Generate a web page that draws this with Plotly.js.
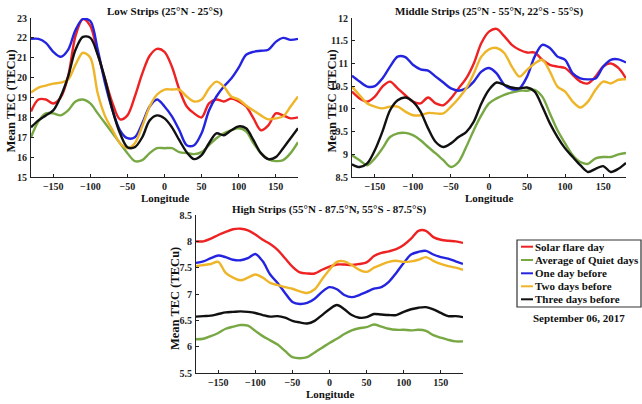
<!DOCTYPE html>
<html>
<head>
<meta charset="utf-8">
<script src="https://cdn.plot.ly/plotly-3.0.1.min.js"></script>
<style>html,body{margin:0;padding:0;background:#fff;}#chart{width:642px;height:404px;}</style>
</head>
<body>
<div id="chart"></div>
<script>
const longitude = [-180,-170,-160,-150,-140,-130,-120,-110,-100,-90,-80,-70,-60,-50,-40,-30,-20,-10,0,10,20,30,40,50,60,70,80,90,100,110,120,130,140,150,160,170,180];
const seriesNames = ["Solar flare day","Average of Quiet days","One day before","Two days before","Three days before"];
const seriesColors = ["#ee2222","#78a843","#2424e0","#efb528","#111111"];

// Low strips (25N - 25S)
const lowFlare = [18.3,18.9,18.9,18.7,19.0,20.05,22.1,22.95,22.6,21.2,19.9,18.7,17.9,18.1,19.05,20.2,21.1,21.45,21.3,20.55,19.4,18.55,18.2,18.0,18.7,18.9,18.8,18.95,18.8,18.55,17.95,17.35,17.6,18.2,18.1,17.95,18.0];
const lowQuiet = [17.0,17.8,18.2,18.2,18.1,18.35,18.8,18.9,18.7,18.2,17.7,17.2,16.7,16.2,15.8,15.85,16.2,16.45,16.45,16.45,16.25,16.2,16.15,16.25,16.6,16.95,17.2,17.35,17.45,17.3,16.7,16.2,15.9,15.8,15.85,16.2,16.75];
const lowOne   = [21.95,21.95,21.75,21.3,21.05,21.4,22.4,22.95,22.85,21.4,19.7,18.35,17.35,16.95,17.0,17.7,18.55,18.9,18.55,18.05,17.35,16.6,16.6,17.2,18.35,19.05,19.55,19.95,20.5,21.15,21.3,21.35,21.4,21.8,22.0,21.9,21.95];
const lowTwo   = [19.25,19.5,19.6,19.7,19.75,19.9,20.65,21.25,21.0,19.2,18.05,17.35,16.7,16.45,16.7,17.55,18.55,19.15,19.4,19.4,19.4,19.05,18.8,18.9,19.45,19.8,19.55,19.05,18.9,18.6,18.35,18.1,17.9,17.95,18.05,18.55,19.05];
const lowThree = [17.5,17.85,18.1,18.35,19.05,20.05,21.4,22.05,22.0,21.15,19.9,18.35,17.2,16.5,16.5,17.0,17.85,18.1,17.95,17.5,16.85,16.25,15.9,16.1,16.7,17.2,17.1,17.35,17.55,17.45,16.85,16.2,15.9,16.0,16.45,16.95,17.45];

// Middle strips
const midFlare = [10.38,10.23,10.16,10.27,10.49,10.6,10.45,10.3,10.16,10.12,10.25,10.12,10.08,10.23,10.45,10.67,11.0,11.45,11.7,11.76,11.6,11.41,11.3,11.24,11.24,11.08,10.97,10.93,10.9,10.75,10.6,10.56,10.71,10.93,11.0,10.9,10.67];
const midQuiet = [8.98,8.87,8.76,8.91,9.13,9.38,9.46,9.47,9.42,9.31,9.16,9.02,8.87,8.72,8.83,9.16,9.53,9.86,10.12,10.23,10.31,10.36,10.4,10.4,10.42,10.27,9.9,9.53,9.24,8.98,8.83,8.79,8.91,8.94,8.94,9.0,9.03];
const midOne   = [10.73,10.6,10.49,10.5,10.67,10.93,11.15,11.14,10.97,10.87,10.84,10.71,10.58,10.45,10.4,10.45,10.6,10.82,10.9,10.78,10.53,10.43,10.45,10.71,11.15,11.41,11.34,11.15,11.08,10.78,10.67,10.65,10.67,10.93,11.08,11.09,11.02];
const midTwo   = [10.49,10.3,10.12,10.05,10.01,10.05,10.05,9.94,9.86,9.86,9.91,9.9,9.9,10.05,10.23,10.45,10.78,11.15,11.31,11.34,11.23,10.93,10.71,10.86,11.0,11.08,10.82,10.49,10.38,10.16,10.03,10.16,10.42,10.6,10.56,10.64,10.65];
const midThree = [8.78,8.72,8.8,9.09,9.5,9.97,10.19,10.25,10.16,9.94,9.57,9.27,9.16,9.24,9.38,9.49,9.72,10.12,10.42,10.58,10.53,10.47,10.45,10.47,10.38,10.05,9.68,9.38,9.13,8.94,8.76,8.61,8.68,8.74,8.61,8.68,8.81];

// High strips
const highFlare = [8.0,8.0,8.05,8.12,8.18,8.23,8.24,8.21,8.13,8.03,7.95,7.84,7.68,7.52,7.41,7.39,7.39,7.46,7.52,7.56,7.56,7.55,7.57,7.6,7.72,7.78,7.81,7.85,7.93,8.05,8.2,8.2,8.08,8.03,8.01,8.0,7.97];
const highQuiet = [6.14,6.15,6.2,6.26,6.34,6.38,6.41,6.4,6.3,6.2,6.12,6.04,5.92,5.8,5.78,5.8,5.89,5.98,6.07,6.15,6.24,6.31,6.35,6.37,6.42,6.38,6.34,6.32,6.32,6.31,6.32,6.3,6.22,6.17,6.13,6.1,6.1];
const highOne   = [7.59,7.62,7.68,7.73,7.7,7.65,7.64,7.68,7.76,7.62,7.37,7.21,7.02,6.85,6.81,6.83,6.91,7.04,7.13,7.09,6.98,6.94,6.98,7.04,7.1,7.13,7.23,7.4,7.59,7.75,7.8,7.82,7.75,7.7,7.67,7.62,7.57];
const highTwo   = [7.53,7.55,7.57,7.61,7.4,7.31,7.26,7.31,7.37,7.31,7.21,7.17,7.13,7.1,7.05,7.02,7.09,7.28,7.46,7.61,7.62,7.55,7.46,7.42,7.5,7.56,7.61,7.63,7.61,7.62,7.65,7.7,7.63,7.57,7.53,7.5,7.46];
const highThree = [6.57,6.58,6.59,6.62,6.65,6.66,6.67,6.66,6.64,6.6,6.57,6.58,6.55,6.49,6.46,6.44,6.49,6.6,6.71,6.79,6.71,6.6,6.55,6.56,6.62,6.61,6.6,6.6,6.66,6.71,6.74,6.75,6.71,6.64,6.58,6.58,6.56];

const panelTitles = ["Low Strips (25°N - 25°S)","Middle Strips (25°N - 55°N, 22°S - 55°S)","High Strips (55°N - 87.5°N, 55°S - 87.5°S)"];
const xTitle = "Longitude";
const yTitle = "Mean TEC (TECu)";
const dateLabel = "September 06, 2017";

const W = 642, H = 404;
const FONT = "Liberation Serif, Times New Roman, serif";
const panels = [
  {data:[lowFlare,lowQuiet,lowOne,lowTwo,lowThree], x:[31,298], y:[18,177], range:[15,23], dtick:1},
  {data:[midFlare,midQuiet,midOne,midTwo,midThree], x:[352,626], y:[18,177], range:[8.5,12], dtick:0.5},
  {data:[highFlare,highQuiet,highOne,highTwo,highThree], x:[196,463], y:[215,373], range:[5.5,8.5], dtick:0.5}
];

const traces = [];
const layout = {
  width: W, height: H,
  margin: {l:0, r:0, t:0, b:0},
  paper_bgcolor: "#fff", plot_bgcolor: "#fff",
  showlegend: false,
  font: {family: FONT, color: "#111", size: 10},
  annotations: [], shapes: []
};
const px = v => v / W;
const py = v => 1 - v / H;

panels.forEach((p, i) => {
  const sfx = i === 0 ? "" : String(i + 1);
  p.data.forEach((arr, k) => {
    traces.push({
      x: longitude, y: arr, type: "scatter", mode: "lines",
      name: seriesNames[k], xaxis: "x" + sfx, yaxis: "y" + sfx,
      line: {color: seriesColors[k], width: 2.4, shape: "spline", smoothing: 0.9},
      hoverinfo: "skip"
    });
  });
  const axCommon = {
    showgrid: false, zeroline: false, showline: true, linecolor: "#222", linewidth: 1,
    ticks: "inside", ticklen: 3, tickcolor: "#222",
    tickfont: {family: FONT, size: 10, weight: "bold", color: "#222"}, fixedrange: true
  };
  layout["xaxis" + sfx] = Object.assign({}, axCommon, {
    domain: [px(p.x[0]), px(p.x[1])], anchor: "y" + sfx,
    range: [-180, 180], tick0: -150, dtick: 50
  });
  layout["yaxis" + sfx] = Object.assign({}, axCommon, {
    domain: [py(p.y[1]), py(p.y[0])], anchor: "x" + sfx,
    range: p.range, dtick: p.dtick, tick0: p.range[0], ticklabelstandoff: 1
  });
  const cx = (p.x[0] + p.x[1]) / 2;
  layout.annotations.push({
    text: "<b>" + panelTitles[i] + "</b>", xref: "paper", yref: "paper",
    x: px(i === 0 ? 165 : cx), y: py(i === 2 ? 209 : 11), showarrow: false,
    xanchor: "center", yanchor: "middle", font: {family: FONT, size: 11, color: "#111"}
  });
  layout.annotations.push({
    text: "<b>" + xTitle + "</b>", xref: "paper", yref: "paper",
    x: px(cx), y: py(p.y[1] + 20.5), showarrow: false,
    xanchor: "center", yanchor: "middle", font: {family: FONT, size: 11, color: "#111"}
  });
  layout.annotations.push({
    text: "<b>" + yTitle + "</b>", xref: "paper", yref: "paper",
    x: px(p.x[0] - 21), y: py((p.y[0] + p.y[1]) / 2 + 4), showarrow: false, textangle: -90,
    xanchor: "center", yanchor: "middle", font: {family: FONT, size: 12.5, color: "#111"}
  });
});

// legend box (drawn)
const lgTop = 240, lgBottom = 307, lgLeft = 517, lgRight = 641;
layout.shapes.push({type: "rect", xref: "paper", yref: "paper",
  x0: px(lgLeft), x1: px(lgRight), y0: py(lgBottom), y1: py(lgTop),
  line: {color: "#333", width: 1.2}, fillcolor: "rgba(0,0,0,0)"});
const rowY = [246.7, 260, 273.3, 286.3, 299.3];
seriesNames.forEach((nm, k) => {
  layout.shapes.push({type: "line", xref: "paper", yref: "paper",
    x0: px(521), x1: px(533), y0: py(rowY[k]), y1: py(rowY[k]),
    line: {color: seriesColors[k], width: 2}});
  layout.annotations.push({text: "<b>" + nm + "</b>", xref: "paper", yref: "paper",
    x: px(533), y: py(rowY[k]), xanchor: "left", yanchor: "middle", showarrow: false,
    font: {family: FONT, size: 11, color: "#111"}});
});
layout.annotations.push({text: "<b>" + dateLabel + "</b>", xref: "paper", yref: "paper",
  x: px(579), y: py(318), xanchor: "center", yanchor: "middle", showarrow: false,
  font: {family: FONT, size: 11, color: "#111"}});

Plotly.newPlot("chart", traces, layout, {staticPlot: true, displayModeBar: false});
</script>
</body>
</html>
